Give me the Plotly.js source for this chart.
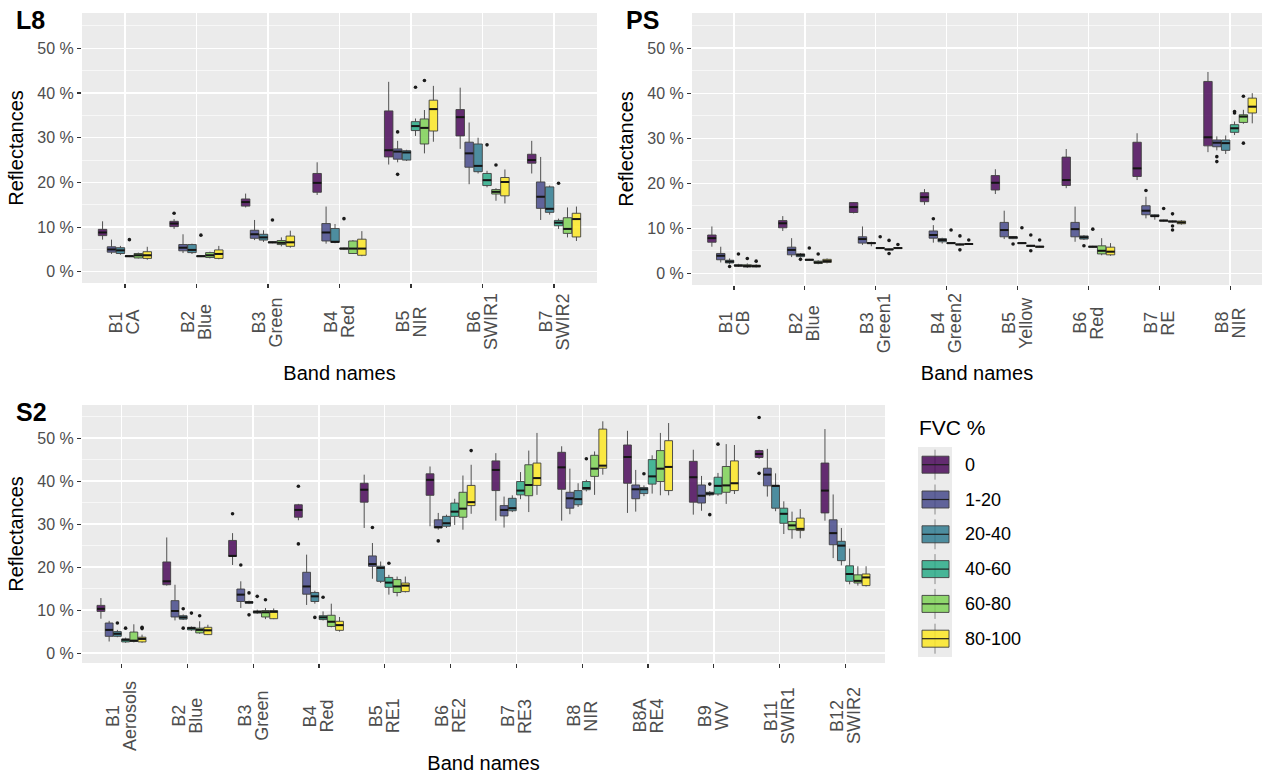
<!DOCTYPE html>
<html>
<head>
<meta charset="utf-8">
<script src="https://cdn.plot.ly/plotly-3.0.1.min.js"></script>
<style>html,body{margin:0;padding:0;background:#fff;}#chart{width:1266px;height:774px;}</style>
</head>
<body>
<div id="chart"></div>
<script>
// ---------- Data ----------
const fvcClasses = ["0", "1-20", "20-40", "40-60", "60-80", "80-100"];
const fvcColors = ["rgba(68,1,84,0.82)", "rgba(65,68,135,0.82)", "rgba(42,120,142,0.82)",
                   "rgba(34,168,132,0.82)", "rgba(122,209,81,0.82)", "rgba(253,231,37,0.85)"];

// Landsat 8 (L8)  -- rows: FVC class, columns: band
const L8_codes = ["B1", "B2", "B3", "B4", "B5", "B6", "B7"];
const L8_names = ["CA", "Blue", "Green", "Red", "NIR", "SWIR1", "SWIR2"];
const L8_lo = [
  [7.2, 9.6, 14.4, 17.2, 24.0, 27.5, 22.0],
  [4.0, 4.2, 7.1, 6.3, 24.5, 19.6, 11.6],
  [3.8, 4.0, 6.7, 6.4, 24.8, 22.0, 12.8],
  [3.3, 3.3, 6.4, 5.0, 30.4, 18.9, 9.6],
  [3.0, 3.0, 5.7, 4.0, 26.5, 15.9, 7.7],
  [2.7, 2.8, 5.4, 3.5, 29.1, 15.3, 6.9]];
const L8_q1 = [
  [8.1, 10.1, 14.7, 17.8, 25.7, 30.4, 24.3],
  [4.4, 4.7, 7.5, 6.9, 25.2, 23.4, 14.2],
  [4.1, 4.3, 7.1, 6.6, 25.0, 22.4, 13.3],
  [3.4, 3.4, 6.5, 5.1, 31.6, 19.3, 10.3],
  [3.1, 3.2, 6.1, 4.1, 28.6, 17.4, 8.6],
  [3.0, 3.0, 5.7, 3.7, 31.5, 17.0, 7.8]];
const L8_med = [
  [8.8, 10.8, 15.6, 19.9, 27.2, 34.6, 25.0],
  [5.0, 5.4, 8.4, 8.8, 26.9, 26.5, 16.8],
  [4.8, 4.9, 7.7, 6.7, 26.7, 23.7, 14.1],
  [3.5, 3.5, 6.6, 5.2, 32.6, 20.5, 11.0],
  [3.7, 3.7, 6.5, 5.2, 32.2, 17.9, 9.6],
  [3.7, 4.0, 6.6, 5.2, 36.4, 20.1, 11.8]];
const L8_q3 = [
  [9.5, 11.3, 16.3, 22.0, 36.0, 36.3, 26.3],
  [5.6, 6.1, 9.3, 10.8, 27.5, 29.0, 20.1],
  [5.4, 6.1, 8.4, 9.7, 27.1, 28.6, 19.0],
  [3.6, 3.6, 6.7, 5.3, 33.6, 22.0, 11.5],
  [4.1, 4.3, 7.0, 6.9, 34.2, 18.4, 12.1],
  [4.5, 4.9, 8.0, 7.3, 38.4, 21.1, 13.1]];
const L8_hi = [
  [11.3, 11.8, 17.5, 24.5, 42.5, 41.2, 29.3],
  [7.2, 8.4, 11.6, 14.6, 29.3, 33.4, 25.7],
  [5.8, 6.3, 9.3, 10.7, 27.3, 30.0, 19.3],
  [3.7, 3.7, 6.8, 5.4, 34.3, 22.6, 11.9],
  [4.3, 4.5, 7.7, 7.1, 36.2, 18.7, 14.4],
  [5.6, 5.8, 9.2, 9.1, 41.6, 22.9, 14.6]];
const L8_outBand  = [1, 2, 2, 3, 4, 5, 5, 5, 5, 6, 6, 7];
const L8_outClass = [3, 0, 3, 3, 3, 1, 1, 3, 4, 3, 4, 3];
const L8_outValue = [7.2, 13.1, 8.2, 11.6, 11.9, 31.3, 21.8, 41.3, 42.8, 28.4, 23.9, 19.8];

// PlanetScope (PS)
const PS_codes = ["B1", "B2", "B3", "B4", "B5", "B6", "B7", "B8"];
const PS_names = ["CB", "Blue", "Green1", "Green2", "Yellow", "Red", "RE", "NIR"];
const PS_lo = [
  [5.9, 9.4, 13.3, 15.2, 17.6, 18.9, 20.7, 26.9],
  [2.4, 3.6, 6.3, 6.8, 7.6, 7.0, 12.2, 27.3],
  [2.0, 3.5, 6.0, 6.6, 7.6, 7.4, 11.9, 26.5],
  [1.4, 2.8, 5.4, 6.5, 6.5, 5.7, 11.5, 30.7],
  [1.2, 2.0, 5.1, 6.2, 5.9, 4.0, 11.3, 33.2],
  [1.3, 2.2, 5.4, 6.3, 5.7, 3.9, 10.8, 33.3]];
const PS_q1 = [
  [6.9, 10.1, 13.5, 15.9, 18.5, 19.5, 21.5, 28.3],
  [3.0, 4.1, 6.7, 7.8, 8.1, 8.1, 13.0, 28.1],
  [2.3, 3.7, 6.6, 7.0, 7.7, 7.6, 12.6, 27.3],
  [1.6, 2.9, 5.5, 6.6, 6.6, 5.8, 11.6, 31.3],
  [1.4, 2.2, 5.2, 6.3, 6.0, 4.3, 11.4, 33.5],
  [1.4, 2.4, 5.5, 6.4, 5.8, 4.1, 11.0, 35.6]];
const PS_med = [
  [7.8, 11.1, 14.7, 16.9, 20.1, 20.7, 23.3, 30.2],
  [3.9, 5.2, 7.6, 8.5, 9.6, 9.8, 13.9, 29.0],
  [2.6, 4.1, 6.7, 7.4, 8.0, 8.0, 12.7, 28.9],
  [1.7, 3.0, 5.6, 6.7, 6.7, 5.9, 11.7, 32.2],
  [1.6, 2.4, 5.3, 6.4, 6.1, 5.0, 11.5, 34.8],
  [1.6, 2.7, 5.6, 6.5, 5.9, 4.8, 11.3, 37.0]];
const PS_q3 = [
  [8.5, 11.7, 15.7, 17.9, 21.7, 25.8, 29.1, 42.6],
  [4.4, 5.8, 8.1, 9.4, 11.3, 11.3, 15.0, 29.6],
  [2.9, 4.3, 6.8, 7.7, 8.1, 8.3, 13.0, 29.6],
  [1.9, 3.1, 5.7, 6.8, 6.8, 6.0, 11.8, 33.0],
  [1.9, 2.7, 5.4, 6.5, 6.2, 6.1, 11.6, 35.2],
  [1.8, 3.1, 5.7, 6.6, 6.0, 5.8, 11.6, 38.9]];
const PS_hi = [
  [10.4, 12.7, 15.8, 18.7, 23.1, 27.6, 31.1, 44.7],
  [5.9, 7.8, 10.4, 10.7, 13.9, 14.8, 17.0, 30.4],
  [3.3, 4.5, 7.0, 7.9, 8.2, 8.5, 13.1, 30.6],
  [2.1, 3.2, 5.8, 6.9, 6.9, 6.1, 11.9, 33.7],
  [2.2, 2.9, 5.5, 6.6, 6.3, 7.8, 11.7, 36.3],
  [2.0, 3.3, 5.8, 6.7, 6.1, 6.7, 11.8, 40.0]];
const PS_outBand  = [1, 1, 1, 1, 2, 2, 2, 3, 3, 3, 3, 4, 4, 4, 4, 4, 5, 5, 5, 5, 5, 6, 6, 7, 7, 7, 7, 7, 8, 8, 8, 8, 8, 8];
const PS_outClass = [2, 3, 4, 5, 2, 3, 4, 3, 4, 4, 5, 1, 3, 4, 4, 5, 2, 3, 4, 4, 5, 2, 3, 1, 3, 4, 4, 4, 1, 1, 3, 3, 4, 4];
const PS_outValue = [1.5, 4.3, 3.3, 2.7, 3.1, 5.6, 4.3, 8.1, 7.3, 4.4, 6.4, 12.1, 9.6, 8.3, 5.2, 7.4,
                     6.5, 10.1, 8.5, 5.0, 7.4, 6.1, 9.8, 18.4, 14.4, 13.2, 10.5, 9.6, 25.9, 24.8, 35.9, 35.6, 39.3, 28.9];

// Sentinel-2 (S2)
const S2_codes = ["B1", "B2", "B3", "B4", "B5", "B6", "B7", "B8", "B8A", "B9", "B11", "B12"];
const S2_names = ["Aerosols", "Blue", "Green", "Red", "RE1", "RE2", "RE3", "NIR", "RE4", "WV", "SWIR1", "SWIR2"];
const S2_lo = [
  [8.0, 15.7, 20.5, 30.9, 29.1, 29.5, 30.8, 30.8, 32.6, 32.2, 45.2, 30.8],
  [2.7, 7.6, 10.5, 11.2, 17.3, 28.7, 29.2, 32.3, 32.9, 33.1, 36.4, 22.1],
  [3.7, 7.7, 11.4, 11.5, 16.3, 29.1, 32.8, 34.0, 36.5, 36.5, 33.0, 20.4],
  [2.4, 5.2, 9.1, 7.6, 13.6, 29.8, 35.8, 37.6, 37.1, 36.6, 27.7, 16.0],
  [2.5, 4.5, 7.9, 6.0, 13.2, 28.7, 32.8, 36.8, 36.7, 34.7, 26.6, 15.7],
  [2.4, 4.2, 7.9, 5.0, 14.1, 32.4, 36.8, 41.5, 36.7, 37.0, 26.7, 15.5]];
const S2_q1 = [
  [9.7, 15.9, 22.5, 31.6, 35.1, 36.7, 37.8, 38.1, 39.5, 35.1, 45.5, 32.6],
  [3.9, 8.4, 12.0, 13.7, 20.2, 29.1, 31.9, 33.7, 35.9, 34.9, 38.9, 25.2],
  [3.9, 7.9, 11.6, 12.0, 16.7, 29.5, 33.1, 34.5, 37.1, 36.8, 33.7, 21.5],
  [2.6, 5.4, 9.3, 7.8, 15.3, 31.8, 36.8, 38.0, 39.3, 37.0, 30.2, 16.7],
  [2.7, 4.7, 8.4, 6.2, 14.1, 31.6, 36.6, 41.1, 39.9, 37.4, 28.7, 16.3],
  [2.6, 4.3, 8.0, 5.3, 14.3, 34.3, 39.0, 43.0, 37.8, 37.8, 28.5, 15.7]];
const S2_med = [
  [10.3, 16.7, 22.6, 33.3, 38.0, 40.3, 42.6, 43.2, 45.6, 40.9, 46.3, 37.8],
  [5.4, 9.8, 13.6, 15.5, 20.7, 29.3, 33.3, 36.0, 38.1, 36.6, 41.5, 27.9],
  [4.5, 8.3, 11.8, 13.2, 19.8, 30.2, 33.7, 35.8, 38.1, 37.1, 38.9, 25.0],
  [3.1, 5.8, 9.6, 8.3, 16.4, 32.9, 37.8, 38.4, 41.1, 38.9, 32.4, 18.4],
  [2.9, 5.4, 9.5, 7.3, 15.5, 33.6, 39.1, 42.9, 42.9, 39.0, 29.7, 16.8],
  [3.3, 5.3, 9.6, 6.5, 15.7, 35.1, 40.7, 43.6, 43.3, 39.5, 28.9, 17.6]];
const S2_q3 = [
  [11.1, 21.2, 26.2, 34.5, 39.5, 41.7, 44.7, 46.7, 48.4, 44.6, 47.1, 44.2],
  [7.0, 12.2, 14.9, 18.8, 22.6, 31.0, 34.3, 37.4, 39.1, 39.1, 43.0, 31.0],
  [5.0, 8.7, 12.0, 14.1, 20.2, 31.8, 36.0, 37.8, 38.5, 37.4, 39.0, 26.0],
  [3.3, 6.0, 9.8, 8.7, 17.6, 34.9, 39.9, 39.9, 45.0, 40.9, 33.7, 20.3],
  [4.9, 5.8, 9.9, 8.8, 17.1, 37.4, 43.8, 46.0, 47.1, 43.4, 30.6, 18.2],
  [3.7, 6.0, 9.9, 7.4, 16.3, 39.0, 44.2, 52.1, 49.4, 44.7, 31.4, 18.4]];
const S2_hi = [
  [12.8, 26.9, 27.9, 34.7, 41.5, 43.4, 46.5, 48.1, 51.7, 47.3, 47.3, 52.1],
  [7.5, 15.9, 16.7, 22.9, 25.6, 32.6, 36.4, 42.9, 42.6, 41.2, 47.5, 36.9],
  [5.4, 9.0, 12.2, 14.5, 21.3, 32.2, 36.7, 39.5, 39.0, 37.7, 41.8, 29.1],
  [3.6, 6.2, 10.1, 9.7, 18.2, 35.9, 42.1, 40.3, 46.0, 41.9, 35.3, 24.3],
  [6.7, 7.4, 10.5, 11.5, 17.8, 41.3, 47.1, 46.9, 51.2, 48.6, 32.9, 20.2],
  [4.3, 6.6, 10.4, 8.4, 17.8, 43.8, 51.2, 53.9, 53.5, 48.4, 33.5, 20.2]];
const S2_outBand  = [1, 1, 1, 1, 2, 2, 2, 2, 3, 3, 3, 3, 3, 3, 4, 4, 4, 4, 5, 5, 6, 6, 8, 9, 10, 10, 10, 11, 11];
const S2_outClass = [2, 3, 5, 5, 2, 2, 3, 4, 0, 1, 2, 2, 3, 4, 0, 0, 2, 3, 1, 3, 1, 5, 3, 2, 2, 2, 3, 0, 0];
const S2_outValue = [7.0, 5.8, 6.0, 5.7, 10.3, 5.8, 9.3, 8.7, 32.4, 20.5, 14.0, 8.9, 13.2, 12.4, 38.8, 25.4, 8.3, 13.0,
                     29.2, 20.9, 26.1, 47.1, 45.2, 41.7, 39.3, 32.2, 48.6, 54.8, 41.8];

// ---------- Build ----------
const W = 1266, H = 774;
const FONT = "Liberation Sans, Arial, sans-serif";
const DODGE = 0.75;
const nG = fvcClasses.length;
const bw = DODGE / nG;
const boxW = bw * 0.95;
function pos(band, g) { return band + (g - (nG - 1) / 2) * bw; }
const px = v => v / W;          // pixel -> paper x
const py = v => 1 - v / H;      // pixel -> paper y

const panels = [
  {key: "L8", codes: L8_codes, names: L8_names, lo: L8_lo, q1: L8_q1, med: L8_med, q3: L8_q3, hi: L8_hi,
   ob: L8_outBand, oc: L8_outClass, ov: L8_outValue, xa: "x", ya: "y", labelY: 322},
  {key: "PS", codes: PS_codes, names: PS_names, lo: PS_lo, q1: PS_q1, med: PS_med, q3: PS_q3, hi: PS_hi,
   ob: PS_outBand, oc: PS_outClass, ov: PS_outValue, xa: "x2", ya: "y2", labelY: 323},
  {key: "S2", codes: S2_codes, names: S2_names, lo: S2_lo, q1: S2_q1, med: S2_med, q3: S2_q3, hi: S2_hi,
   ob: S2_outBand, oc: S2_outClass, ov: S2_outValue, xa: "x3", ya: "y3", labelY: 716}
];

const traces = [];
const annotations = [];
panels.forEach((p) => {
  for (let g = 0; g < nG; g++) {
    traces.push({
      type: "box", name: fvcClasses[g], showlegend: false,
      x: p.codes.map((_, i) => pos(i + 1, g)),
      q1: p.q1[g], median: p.med[g], q3: p.q3[g],
      lowerfence: p.lo[g], upperfence: p.hi[g],
      width: boxW, whiskerwidth: 0, boxpoints: false,
      fillcolor: fvcColors[g], line: {color: "#404040", width: 0.9},
      xaxis: p.xa, yaxis: p.ya, hoverinfo: "y"
    });
  }
  // thicker median bars (ggplot style), built from the median arrays
  const mx = [], my = [];
  for (let g = 0; g < nG; g++) {
    p.med[g].forEach((m, i) => {
      const c = pos(i + 1, g);
      mx.push(c - boxW / 2, c + boxW / 2, null);
      my.push(m, m, null);
    });
  }
  traces.push({type: "scatter", mode: "lines", x: mx, y: my, showlegend: false,
    line: {color: "#151515", width: 2}, xaxis: p.xa, yaxis: p.ya, hoverinfo: "skip"});
  // outliers
  const xs = [], ys = [];
  p.ov.forEach((v, k) => { xs.push(pos(p.ob[k], p.oc[k])); ys.push(v); });
  traces.push({type: "scatter", mode: "markers", x: xs, y: ys, showlegend: false,
    marker: {color: "#1a1a1a", size: 3.6}, xaxis: p.xa, yaxis: p.ya, hoverinfo: "y"});
  // two-line rotated band labels (code on the left, name on the right, centred)
  p.codes.forEach((c, i) => {
    [[c, -8.5], [p.names[i], 8.5]].forEach(([t, sh]) => {
      annotations.push({text: t, x: i + 1, xref: p.xa, y: py(p.labelY), yref: "paper",
        textangle: -90, xanchor: "center", yanchor: "middle", xshift: sh, showarrow: false,
        font: {family: FONT, size: 18, color: "#4d4d4d"}});
    });
  });
});

const tickFont = {family: FONT, size: 16, color: "#4d4d4d"};
const titleFont = {family: FONT, size: 20, color: "#000"};

function xAxis(dom, n, anchor, range, standoff) {
  return {
    domain: dom, anchor: anchor, range: range,
    tickmode: "array", tickvals: Array.from({length: n}, (_, i) => i + 1),
    showticklabels: false,
    ticks: "outside", ticklen: 4, tickwidth: 1.2, tickcolor: "#333",
    showgrid: true, gridcolor: "#ffffff", gridwidth: 1.3,
    zeroline: false, showline: false, fixedrange: true,
    title: {text: "Band names", font: titleFont, standoff: standoff}
  };
}
function yAxis(dom, anchor, range) {
  return {
    domain: dom, anchor: anchor, range: range,
    tickmode: "linear", tick0: 0, dtick: 10, ticksuffix: " %",
    ticks: "outside", ticklen: 4, tickwidth: 1.2, tickcolor: "#333",
    tickfont: tickFont, showgrid: true, gridcolor: "#ffffff", gridwidth: 1.3,
    minor: {dtick: 5, tick0: 0, showgrid: true, gridcolor: "#ffffff", gridwidth: 0.6, ticks: ""},
    zeroline: false, showline: false, fixedrange: true,
    title: {text: "Reflectances", font: titleFont, standoff: 8}
  };
}

// legend (ggplot-style keys)
const shapes = [];
const keyL = 918, keyR = 952, keyTop = 447, keyBot = 657, key0 = 464.7, keyStep = 34.8;
shapes.push({type: "rect", xref: "paper", yref: "paper", x0: px(keyL), x1: px(keyR), y0: py(keyBot), y1: py(keyTop),
  fillcolor: "#ebebeb", line: {width: 0}, layer: "above"});
fvcClasses.forEach((c, i) => {
  const cy = key0 + i * keyStep;
  shapes.push({type: "line", xref: "paper", yref: "paper", x0: px(935), x1: px(935), y0: py(cy + 15), y1: py(cy - 15),
    line: {color: "#8a8a8a", width: 1}, layer: "above"});
  shapes.push({type: "rect", xref: "paper", yref: "paper", x0: px(922), x1: px(949), y0: py(cy + 8.5), y1: py(cy - 8.5),
    fillcolor: fvcColors[i], line: {color: "#404040", width: 0.9}, layer: "above"});
  shapes.push({type: "line", xref: "paper", yref: "paper", x0: px(922), x1: px(949), y0: py(cy), y1: py(cy),
    line: {color: "#202020", width: 1.2}, layer: "above"});
  annotations.push({text: c, x: px(963), y: py(cy), xref: "paper", yref: "paper", xanchor: "left", yanchor: "middle",
    showarrow: false, font: {family: FONT, size: 18, color: "#000"}});
});
annotations.push({text: "FVC %", x: px(917), y: py(427), xref: "paper", yref: "paper", xanchor: "left", yanchor: "middle",
  showarrow: false, font: {family: FONT, size: 21, color: "#000"}});

// panel tags
[["L8", 14, 20], ["PS", 624, 20], ["S2", 14, 412]].forEach(([t, x, y]) => {
  annotations.push({text: "<b>" + t + "</b>", x: px(x), y: py(y), xref: "paper", yref: "paper",
    xanchor: "left", yanchor: "middle", showarrow: false, font: {family: FONT, size: 25, color: "#000"}});
});

const layout = {
  width: W, height: H,
  margin: {l: 0, r: 0, t: 0, b: 0},
  paper_bgcolor: "#ffffff", plot_bgcolor: "#ebebeb",
  font: {family: FONT},
  showlegend: false,
  xaxis: xAxis([px(82), px(597)], L8_codes.length, "y", [0.4, 7.6], 78),
  yaxis: yAxis([py(283), py(13)], "x", [-2.5, 57.9]),
  xaxis2: xAxis([px(692), px(1262)], PS_codes.length, "y2", [0.407, 8.45], 76),
  yaxis2: yAxis([py(285), py(13)], "x2", [-2.6, 57.8]),
  xaxis3: xAxis([px(82), px(885)], S2_codes.length, "y3", [0.4, 12.6], 90),
  yaxis3: yAxis([py(663), py(405)], "x3", [-2.3, 57.7]),
  shapes: shapes,
  annotations: annotations
};

Plotly.newPlot("chart", traces, layout, {displayModeBar: false, staticPlot: true});
</script>
</body>
</html>
